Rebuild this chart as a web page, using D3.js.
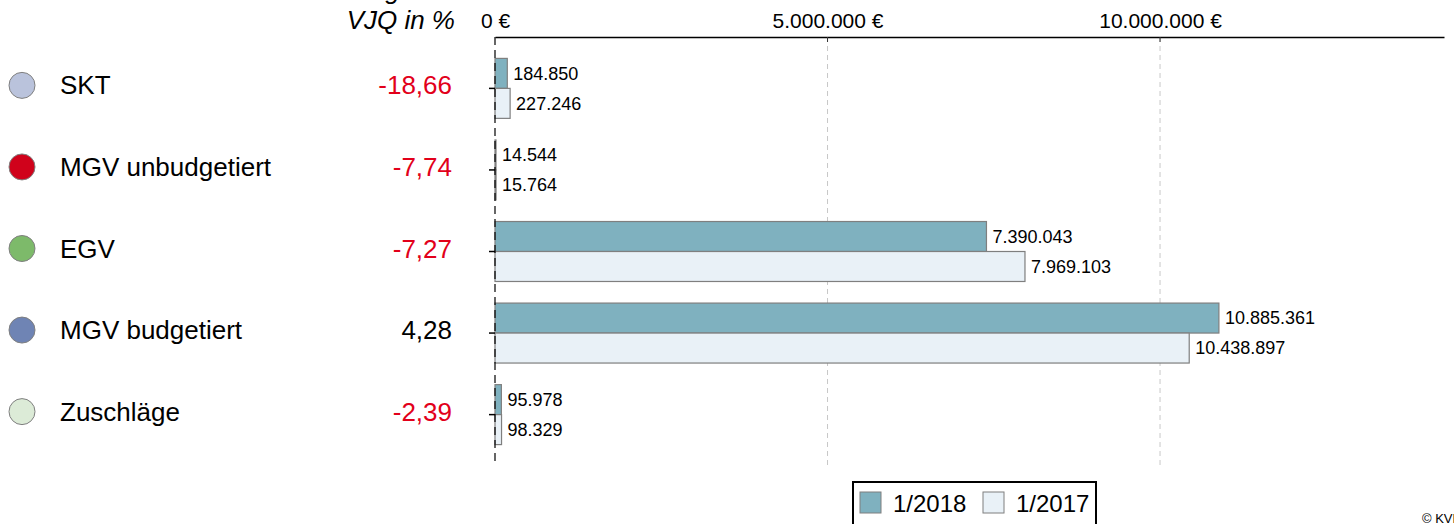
<!DOCTYPE html>
<html><head><meta charset="utf-8">
<script src="https://cdn.jsdelivr.net/npm/d3@7"></script>
<style>body{margin:0;background:#fff;font-family:"Liberation Sans",Arial,sans-serif;}</style>
</head><body><svg id="c" width="1454" height="524"></svg>
<script>
const categories = ["SKT","MGV unbudgetiert","EGV","MGV budgetiert","Zuschläge"];
const categoryColors = ["#bac3dc","#d0021b","#7dba6a","#6f84b4","#dcebd7"];
const vjq = [-18.66,-7.74,-7.27,4.28,-2.39];
const seriesNames = ["1/2018","1/2017"];
const values2018 = [184850,14544,7390043,10885361,95978];
const values2017 = [227246,15764,7969103,10438897,98329];
const xTicks = [0,5000000,10000000];

const svg = d3.select("#c");
const fmtDE = d3.formatLocale({decimal:",",thousands:".",grouping:[3],currency:["","€"],minus:"-"});
const fInt = fmtDE.format(",.0f");
const fPct = fmtDE.format(",.2f");

const x = d3.scaleLinear().domain([0,14270000]).range([495,1444]);
const y = d3.scaleBand().domain(categories).range([37,466]).paddingInner(0).paddingOuter(0.13);
const inner = d3.scaleBand().domain(seriesNames).range([0,y.bandwidth()]).paddingOuter(0.36).paddingInner(0);
const fills = {"1/2018":"#7fb1bf","1/2017":"#e9f1f7"};

// gridlines
svg.append("g").selectAll("line").data(xTicks.filter(d=>d>0)).join("line")
  .attr("x1",d=>x(d)).attr("x2",d=>x(d)).attr("y1",37).attr("y2",466)
  .attr("stroke","#c8c8c8").attr("stroke-width",1).attr("stroke-dasharray","5,4");

// top axis
const ax = svg.append("g").attr("transform","translate(0,37)")
  .call(d3.axisTop(x).tickValues(xTicks).tickSize(0).tickPadding(9).tickFormat(d=>fInt(d)+" €"));
ax.select(".domain").attr("stroke","#000").attr("stroke-width",1.5);
ax.selectAll("text").attr("font-size",21).attr("font-family","Liberation Sans, Arial").attr("fill","#000");
svg.append("g").selectAll("line").data(xTicks.filter(d=>d>0)).join("line")
  .attr("x1",d=>x(d)).attr("x2",d=>x(d)).attr("y1",37).attr("y2",42).attr("stroke","#333");

// bars
const rows = categories.map((c,i)=>({c, vals:[{s:"1/2018",v:values2018[i]},{s:"1/2017",v:values2017[i]}]}));
const g = svg.append("g").selectAll("g").data(rows).join("g").attr("transform",d=>`translate(0,${y(d.c)})`);
g.selectAll("rect").data(d=>d.vals).join("rect")
  .attr("x",x(0)).attr("y",d=>inner(d.s)).attr("width",d=>Math.max(1,x(d.v)-x(0))).attr("height",inner.bandwidth())
  .attr("fill",d=>fills[d.s]).attr("stroke","#7f7f7f").attr("stroke-width",1.2);
g.selectAll("text").data(d=>d.vals).join("text")
  .attr("x",d=>x(d.v)+6).attr("y",d=>inner(d.s)+inner.bandwidth()/2).attr("dy","0.35em")
  .attr("font-size",18).attr("fill","#000").text(d=>fInt(d.v));

// left y axis (dashed) with ticks
svg.append("line").attr("x1",x(0)).attr("x2",x(0)).attr("y1",37).attr("y2",466)
  .attr("stroke","#000").attr("stroke-width",1.2).attr("stroke-dasharray","8,5");
svg.append("g").selectAll("line").data(categories).join("line")
  .attr("x1",x(0)-6).attr("x2",x(0)).attr("y1",d=>y(d)+y.bandwidth()/2).attr("y2",d=>y(d)+y.bandwidth()/2)
  .attr("stroke","#000").attr("stroke-width",1.5);

// left labels
const lg = svg.append("g").selectAll("g").data(categories).join("g")
  .attr("transform",d=>`translate(0,${y(d)+y.bandwidth()/2 - 3})`);
lg.append("circle").attr("cx",22).attr("cy",0).attr("r",13)
  .attr("fill",(d,i)=>categoryColors[i]).attr("stroke","#7f7f7f").attr("stroke-width",1);
lg.append("text").attr("x",60).attr("dy","0.35em").attr("font-size",26).text(d=>d);
lg.append("text").attr("x",452).attr("dy","0.35em").attr("font-size",26).attr("text-anchor","end")
  .attr("fill",(d,i)=>vjq[i]<0?"#e2001a":"#000").text((d,i)=>fPct(vjq[i]));

// header
svg.append("text").attr("x",400).attr("y",-1).attr("font-size",26).attr("font-style","italic").attr("text-anchor","end").text("Veränderung");
svg.append("text").attr("x",455).attr("y",29).attr("font-size",26).attr("font-style","italic").attr("text-anchor","end").text("VJQ in %");

// legend
const leg = svg.append("g");
leg.append("rect").attr("x",853).attr("y",482).attr("width",243).attr("height",60).attr("fill","#fff").attr("stroke","#000").attr("stroke-width",2);
const li = leg.selectAll("g").data(seriesNames).join("g").attr("transform",(d,i)=>`translate(${860+i*123},0)`);
li.append("rect").attr("x",0).attr("y",492).attr("width",21).attr("height",21).attr("fill",d=>fills[d]).attr("stroke","#7f7f7f");
li.append("text").attr("x",33).attr("y",512).attr("font-size",24).text(d=>d);

svg.append("text").attr("x",1422).attr("y",523).attr("font-size",13).text("© KVB");
</script></body></html>
